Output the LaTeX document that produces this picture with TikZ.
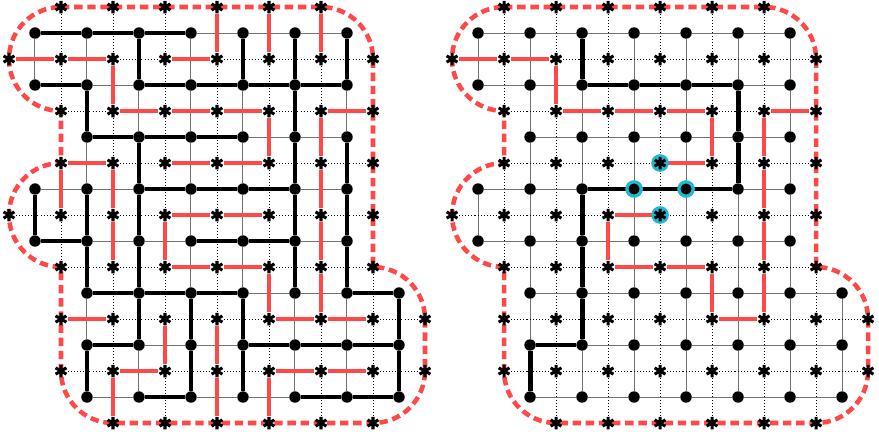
\documentclass[tikz,border=0pt]{standalone}
\definecolor{tred}{RGB}{255,72,72}
\definecolor{tcyan}{RGB}{30,185,210}

\begin{document}
\begin{tikzpicture}[
  gridp/.style={black!55, line width=0.55pt},
  gridd/.style={black, line width=0.5pt, dash pattern=on 0.55pt off 1.1pt},
  tree/.style={black, line width=2.7pt},
  cotree/.style={tred, line width=2.6pt},
  rim/.style={tred, line width=2.5pt, dash pattern=on 4.6pt off 2.6pt},
  dotv/.style={circle, fill=black, inner sep=0pt, minimum size=2.2mm},
  starv/.style={circle, inner sep=0pt, minimum size=2.7mm,
    path picture={\draw[line width=1.65pt, shift={(path picture bounding box.center)}]
      (90:1.2mm) -- (270:1.2mm) (30:1.2mm) -- (210:1.2mm) (150:1.2mm) -- (330:1.2mm);}},
  hldot/.style={draw=tcyan, line width=1.8pt, minimum size=2.75mm},
  hlstar/.style={fill=tcyan, minimum size=3.4mm}]
\useasboundingbox (-0.173,0.135) rectangle (16.731,-8.25);

\foreach \p/\dx in {L/0,R/8.52}{
\begin{scope}[xshift=\dx cm]
\draw[rim] (1,0) -- (6,0) arc[start angle=90,end angle=0,radius=1] -- (7,-5)
  arc[start angle=90,end angle=0,radius=1] -- (8,-7)
  arc[start angle=0,end angle=-90,radius=1] -- (2,-8)
  arc[start angle=-90,end angle=-180,radius=1] -- (1,-5)
  arc[start angle=-90,end angle=-270,radius=1] -- (1,-2)
  arc[start angle=-90,end angle=-270,radius=1] -- cycle;
\foreach \k/\a/\b in {0/0/6,1/0/6,2/1/6,3/0/6,4/0/6,5/1/7,6/1/7,7/1/7}
  \foreach \i in {\a,...,\b}
    \node[dotv] (\p d\i-\k) at ({\i+0.5},{-\k-0.5}) {};
\foreach \k/\a/\b in {0/1/6,1/0/7,2/1/7,3/1/7,4/0/7,5/1/7,6/1/8,7/1/8,8/2/7}
  \foreach \j in {\a,...,\b}
    \node[starv] (\p s\j-\k) at (\j,-\k) {};
\foreach \k/\a/\b [evaluate=\k as \m using int(\k+1)] in {0/0/5,1/0/5,2/1/5,3/0/5,4/0/5,5/1/6,6/1/6,7/1/6}{
  \foreach \i [evaluate=\i as \n using int(\i+1)] in {\a,...,\b}{
    \draw[gridp] (\p d\i-\k) -- (\p d\n-\k);
    \draw[gridd] (\p s\n-\k) -- (\p s\n-\m);
  }}
\foreach \i/\a/\b [evaluate=\i as \n using int(\i+1)] in {0/0/0,0/3/3,1/0/6,2/0/6,3/0/6,4/0/6,5/0/6,6/0/6,7/5/6}{
  \foreach \k [evaluate=\k as \m using int(\k+1)] in {\a,...,\b}{
    \draw[gridp] (\p d\i-\k) -- (\p d\i-\m);
    \draw[gridd] (\p s\i-\m) -- (\p s\n-\m);
  }}
\end{scope}}

\foreach \i/\k [evaluate=\i as \n using int(\i+1)] in {0/0,1/0,2/0,0/1,2/1,3/1,4/1,5/1,1/2,2/2,3/2,2/3,3/3,4/3,0/4,3/4,4/4,1/5,2/5,3/5,6/5,1/6,4/6,5/6,6/6,2/7,5/7,6/7}
  \draw[tree] (Ld\i-\k) -- (Ld\n-\k);
\foreach \i/\k [evaluate=\k as \m using int(\k+1)] in {0/3,1/1,1/3,1/4,1/6,2/0,2/2,2/3,2/4,2/5,3/5,3/6,4/0,4/5,4/6,5/0,5/1,5/2,5/3,5/4,6/0,6/2,6/3,6/4,7/5,7/6}
  \draw[tree] (Ld\i-\k) -- (Ld\i-\m);
\foreach \j/\k [evaluate=\j as \n using int(\j+1)] in {0/1,1/1,3/1,2/2,3/2,4/2,6/2,1/3,3/3,4/3,3/4,4/4,3/5,4/5,1/6,5/6,6/6,2/7,5/7,6/7}
  \draw[cotree] (Ls\j-\k) -- (Ls\n-\k);
\foreach \j/\k [evaluate=\k as \m using int(\k+1)] in {4/0,5/0,6/0,2/1,5/2,6/2,1/3,2/3,6/3,2/4,3/4,6/4,5/5,6/5,3/6,4/6,2/7,4/7,5/7}
  \draw[cotree] (Ls\j-\k) -- (Ls\j-\m);

\foreach \i/\k [evaluate=\i as \n using int(\i+1)] in {2/1,3/1,4/1,2/3,3/3,4/3,1/6}
  \draw[tree] (Rd\i-\k) -- (Rd\n-\k);
\foreach \i/\k [evaluate=\k as \m using int(\k+1)] in {2/0,5/1,5/2,2/3,2/4,2/5,1/6}
  \draw[tree] (Rd\i-\k) -- (Rd\i-\m);
\foreach \j/\k [evaluate=\j as \n using int(\j+1)] in {0/1,1/1,2/2,3/2,4/2,6/2,4/3,3/4,3/5,4/5,5/6}
  \draw[cotree] (Rs\j-\k) -- (Rs\n-\k);
\foreach \j/\k [evaluate=\k as \m using int(\k+1)] in {2/1,5/2,6/2,6/3,6/4,6/5,3/4,5/5}
  \draw[cotree] (Rs\j-\k) -- (Rs\j-\m);

\node[dotv,hldot] (Rh1) at (Rd3-3) {};
\node[dotv,hldot] (Rh2) at (Rd4-3) {};
\node[starv,hlstar] (Rh3) at (Rs4-3) {};
\node[starv,hlstar] (Rh4) at (Rs4-4) {};
\end{tikzpicture}
\end{document}
